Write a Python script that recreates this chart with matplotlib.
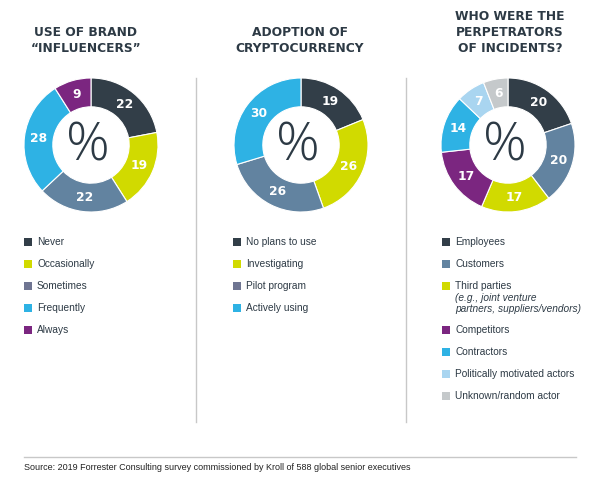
import matplotlib
matplotlib.use("Agg")
import matplotlib.pyplot as plt
from matplotlib.patches import Rectangle
from matplotlib.lines import Line2D

# ---- data ----
titles = [["USE OF BRAND", "\u201cINFLUENCERS\u201d"],
          ["ADOPTION OF", "CRYPTOCURRENCY"],
          ["WHO WERE THE", "PERPETRATORS", "OF INCIDENTS?"]]

influencer_labels = ["Never", "Occasionally", "Sometimes", "Frequently", "Always"]
influencer_values = [22, 19, 22, 28, 9]

crypto_labels = ["No plans to use", "Investigating", "Pilot program", "Actively using"]
crypto_values = [19, 26, 26, 30]

perp_labels = ["Employees", "Customers", "Third parties", "Competitors", "Contractors",
               "Politically motivated actors", "Unknown/random actor"]
perp_sublabel = "(e.g., joint venture\npartners, suppliers/vendors)"
perp_values = [20, 20, 17, 17, 14, 7, 6]

source = "Source: 2019 Forrester Consulting survey commissioned by Kroll of 588 global senior executives"

# ---- styles ----
NAVY = "#323e48"
YELLOW = "#d1da00"
SLATE = "#6283a0"
SKY = "#2eb2e4"
PURPLE = "#7b2680"
LIGHTSKY = "#a9d5f0"
GRAY = "#c5c9cb"
LEGEND_SLATE = "#6f7592"

inf_colors = [NAVY, YELLOW, SLATE, SKY, PURPLE]
inf_leg_colors = [NAVY, YELLOW, LEGEND_SLATE, SKY, PURPLE]
cry_colors = [NAVY, YELLOW, SLATE, SKY]
cry_leg_colors = [NAVY, YELLOW, LEGEND_SLATE, SKY]
perp_colors = [NAVY, SLATE, YELLOW, PURPLE, SKY, LIGHTSKY, GRAY]

W, H = 600, 484
fig = plt.figure(figsize=(6, 4.84), dpi=100)
fig.patch.set_facecolor("white")

bg = fig.add_axes([0, 0, 1, 1])
bg.set_xlim(0, W)
bg.set_ylim(H, 0)
bg.axis("off")

TXT = "#2d3a45"
LEGFONT = "Liberation Sans"

# titles
title_x = [86, 300, 510]
title_y = {2: [32, 48], 3: [17, 32, 48]}
for tx, lines in zip(title_x, titles):
    ys = title_y[len(lines)]
    for ln, y in zip(lines, ys):
        bg.text(tx, y, ln, ha="center", va="center", fontsize=8.8,
                fontweight="bold", color=TXT, family="DejaVu Sans")

# divider lines
for x in [195.5, 405.5]:
    bg.add_line(Line2D([x, x], [78, 422], color="#c8c8c8", lw=1))
bg.add_line(Line2D([24, 576], [457, 457], color="#c8c8c8", lw=1))
bg.text(24, 468, source, ha="left", va="center", fontsize=6.5,
        color="#222222", family=LEGFONT)

# donuts
centers = [(91, 145), (301, 145), (508, 145)]
R = 67
datasets = [(influencer_values, inf_colors), (crypto_values, cry_colors),
            (perp_values, perp_colors)]
for (cx, cy), (vals, cols) in zip(centers, datasets):
    ax = fig.add_axes([(cx - R) / W, (H - cy - R) / H, 2 * R / W, 2 * R / H])
    wedges, texts = ax.pie(vals, colors=cols, startangle=90, counterclock=False,
                           radius=1.0, labels=[str(v) for v in vals],
                           labeldistance=0.785,
                           wedgeprops=dict(width=0.43, edgecolor="white", linewidth=0.8))
    for t in texts:
        t.set_color("white")
        t.set_fontsize(8.8)
        t.set_fontweight("bold")
        t.set_family("DejaVu Sans")
        t.set_ha("center")
        t.set_va("center")
    ax.text(-0.04, -0.02, "%", ha="center", va="center", fontsize=39,
            color=TXT, family="Open Sans", fontweight="light")
    ax.set_xlim(-1, 1)
    ax.set_ylim(-1, 1)
    ax.set_aspect("equal")
    ax.axis("off")

# legends
def legend(x_sq, labels, colors, ys):
    for lab, col, y in zip(labels, colors, ys):
        bg.add_patch(Rectangle((x_sq, y - 4), 8, 8, color=col, lw=0))
        bg.text(x_sq + 13, y, lab, ha="left", va="center", fontsize=7.3,
                color=TXT, family=LEGFONT)

row_y = [242, 264, 286, 308, 330]
legend(24, influencer_labels, inf_leg_colors, row_y)
legend(233, crypto_labels, cry_leg_colors, row_y[:4])
perp_y = [242, 264, 286, 330, 352, 374, 396]
legend(442, perp_labels, perp_colors, perp_y)
bg.text(455, 303.5, perp_sublabel, ha="left", va="center", fontsize=7.3,
        color=TXT, family=LEGFONT, style="italic", linespacing=1.15)

fig.savefig("out.png", dpi=100, facecolor="white")
